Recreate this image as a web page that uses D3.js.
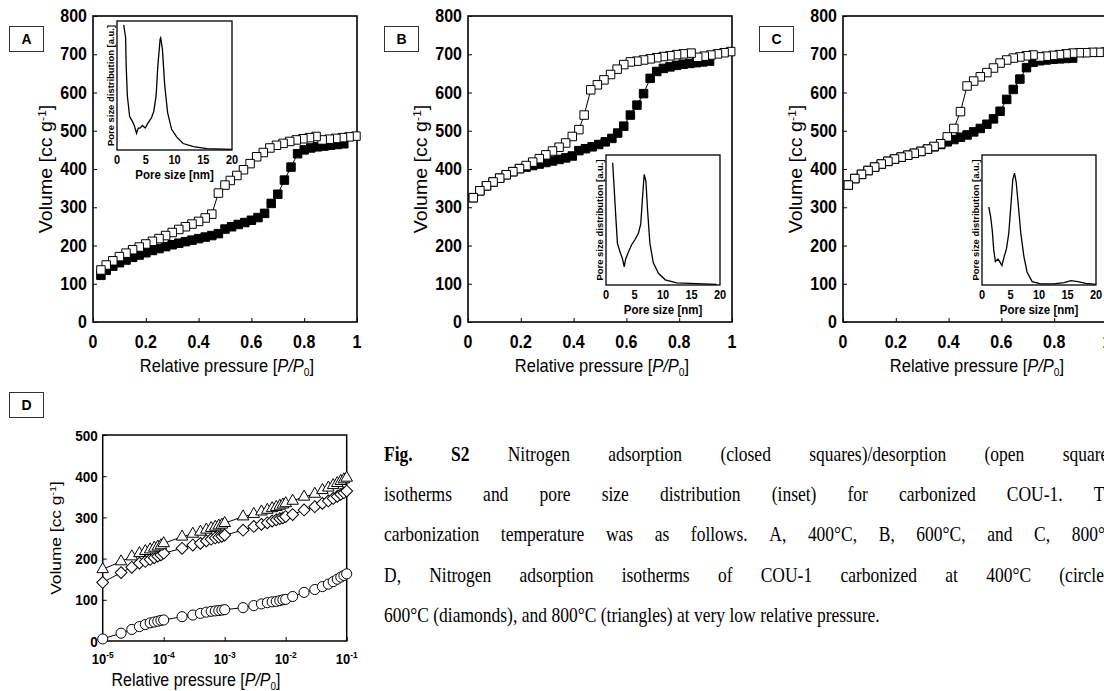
<!DOCTYPE html>
<html><head><meta charset="utf-8">
<script src="https://cdn.jsdelivr.net/npm/d3@7/dist/d3.min.js"></script>
<style>
html,body{margin:0;padding:0;background:#fff;}
svg{display:block;}
</style></head>
<body>
<svg id="chart" width="1104" height="691"></svg>
<script>
// ---------------- DATA ----------------
const xTicksMain = [0, 0.2, 0.4, 0.6, 0.8, 1];
const xTickLabelsMain = ["0", "0.2", "0.4", "0.6", "0.8", "1"];
const yTicksMain = [0, 100, 200, 300, 400, 500, 600, 700, 800];
const poreTicks = [0, 5, 10, 15, 20];
const dXTicks = [1e-5, 1e-4, 1e-3, 1e-2, 1e-1];
const dXTickExp = ["-5", "-4", "-3", "-2", "-1"];
const dYTicks = [0, 100, 200, 300, 400, 500];
const panelLetters = ["A", "B", "C", "D"];

// Panel A (400 °C)
const aAdsP = [0.03,0.05,0.075,0.10,0.125,0.15,0.175,0.20,0.225,0.25,0.275,0.30,0.325,0.35,0.375,0.40,0.425,0.45,0.475,0.50,0.525,0.55,0.575,0.60,0.625,0.65,0.675,0.70,0.725,0.75,0.775,0.80,0.825,0.85,0.875,0.90,0.925,0.95];
const aAdsV = [122,135,146,155,162,169,175,181,187,192,197,202,206,210,214,218,222,226,231,243,249,255,260,266,273,284,310,334,371,405,440,450,455,458,460,462,464,466];
const aDesP = [0.996,0.97,0.945,0.92,0.895,0.868,0.845,0.82,0.795,0.77,0.745,0.72,0.695,0.67,0.645,0.62,0.595,0.57,0.545,0.52,0.50,0.475,0.45,0.425,0.40,0.375,0.35,0.325,0.30,0.275,0.25,0.225,0.20,0.175,0.15,0.125,0.10,0.075,0.05,0.03];
const aDesV = [486,484,482,480,478,476,485,482,479,476,472,467,462,455,443,432,414,398,383,370,358,337,282,272,263,256,249,242,234,226,218,211,204,196,189,180,171,160,149,136];
// Panel B (600 °C)
const bAdsP = [0.02,0.045,0.07,0.095,0.12,0.145,0.17,0.195,0.22,0.245,0.27,0.295,0.32,0.345,0.37,0.395,0.42,0.445,0.47,0.495,0.52,0.545,0.567,0.59,0.615,0.64,0.665,0.69,0.715,0.74,0.765,0.79,0.815,0.84,0.865,0.89,0.915];
const bAdsV = [325,343,356,366,376,385,393,401,405,409,413,417,421,425,429,434,448,453,458,464,471,480,494,512,541,567,597,637,655,663,667,671,674,676,678,680,682];
const bDesP = [0.995,0.97,0.945,0.92,0.895,0.87,0.845,0.815,0.79,0.765,0.74,0.715,0.69,0.665,0.64,0.615,0.59,0.565,0.54,0.515,0.49,0.465,0.44,0.42,0.395,0.37,0.345,0.32,0.295,0.27,0.245,0.22,0.195,0.17,0.145,0.12,0.095,0.07,0.045,0.02];
const bDesV = [707,704,701,698,695,692,703,701,699,696,694,691,688,685,682,680,673,661,647,633,620,607,541,503,485,468,457,447,437,427,418,409,401,393,385,376,366,356,343,325];
// Panel C (800 °C)
const cAdsP = [0.02,0.045,0.07,0.095,0.12,0.145,0.17,0.195,0.22,0.245,0.27,0.295,0.32,0.345,0.37,0.395,0.42,0.445,0.47,0.495,0.52,0.545,0.57,0.595,0.62,0.645,0.67,0.695,0.72,0.745,0.77,0.795,0.82,0.845,0.87];
const cAdsV = [358,375,386,396,405,413,420,426,431,436,441,446,452,458,464,471,477,483,489,497,506,517,531,551,582,608,635,665,679,683,685,687,688,689,690];
const cDesP = [0.995,0.97,0.945,0.92,0.895,0.87,0.845,0.82,0.795,0.77,0.745,0.72,0.695,0.67,0.645,0.62,0.595,0.57,0.545,0.52,0.495,0.47,0.445,0.42,0.395,0.37,0.345,0.32,0.295,0.27,0.245,0.22,0.195,0.17,0.145,0.12,0.095,0.07,0.045,0.02];
const cDesV = [706,705,705,704,704,703,701,699,697,695,693,698,696,693,690,685,677,664,652,641,630,617,550,506,484,466,459,452,446,441,436,431,426,420,413,405,396,386,375,358];

// Insets: pore size distribution (a.u.)
const insAd = [1.17,1.5,1.6,1.8,2.2,2.7,3.0,3.4,3.7,4.0,4.4,4.9,5.4,6.0,6.4,6.8,7.1,7.5,7.6,7.9,8.3,8.8,9.5,10.4,11.5,13.3,15.6,20];
const insAu = [0.97,0.87,0.65,0.42,0.26,0.22,0.19,0.13,0.17,0.17,0.19,0.17,0.21,0.25,0.30,0.42,0.65,0.86,0.87,0.78,0.50,0.29,0.16,0.10,0.05,0.026,0.01,0.005];
const insBd = [1.17,1.4,1.7,2.0,2.5,2.9,3.2,3.45,3.9,4.5,5.1,5.7,6.1,6.4,6.7,7.0,7.3,7.7,8.3,9.2,10.4,12.4,15.9,19.4];
const insBu = [0.94,0.77,0.54,0.32,0.25,0.20,0.14,0.20,0.25,0.31,0.35,0.40,0.47,0.67,0.85,0.80,0.57,0.32,0.17,0.09,0.04,0.017,0.01,0.005];
const insCd = [1.18,1.5,1.8,2.06,2.35,2.8,3.1,3.5,3.9,4.3,4.7,5.1,5.4,5.7,6.0,6.4,6.8,7.35,7.9,8.8,10.3,12.6,14.4,15.6,16.8,18.2,20];
const insCu = [0.60,0.53,0.42,0.27,0.18,0.20,0.18,0.15,0.22,0.28,0.40,0.63,0.81,0.86,0.79,0.60,0.40,0.22,0.10,0.026,0.008,0.008,0.018,0.033,0.026,0.013,0.005];

// Panel D: low-pressure adsorption
const dP = [1e-5,2e-5,3e-5,4e-5,5e-5,6e-5,7e-5,8e-5,9e-5,
            1e-4,2e-4,3e-4,4e-4,5e-4,6e-4,7e-4,8e-4,9e-4,
            1e-3,2e-3,3e-3,4e-3,5e-3,6e-3,7e-3,8e-3,9e-3,
            1e-2,1.3e-2,2e-2,3e-2,4e-2,5e-2,6e-2,7e-2,8e-2,9e-2,1e-1];
const dCircle = [5,19,28,35,40,44,46,48,50, 51,59,63,67,70,72,73,74,75, 76,81,86,90,93,95,96,98,100, 101,108,118,125,132,138,144,150,155,159,163];
const dDiamond = [142,166,179,189,193,198,202,206,209, 213,225,233,237,243,247,250,252,254, 257,269,278,283,287,291,294,297,299, 302,307,318,326,334,340,346,351,356,360,364];
const dTriangle = [174,193,205,213,218,222,226,229,232, 237,253,260,265,270,274,277,280,282, 286,302,308,314,318,322,325,328,331, 334,340,350,357,366,372,378,383,388,392,396];

const captionLines = [
  "Fig. S2 Nitrogen adsorption (closed squares)/desorption (open squares)",
  "isotherms and pore size distribution (inset) for carbonized COU-1. The",
  "carbonization temperature was as follows. A, 400°C, B, 600°C, and C, 800°C.",
  "D, Nitrogen adsorption isotherms of COU-1 carbonized at 400°C (circles),",
  "600°C (diamonds), and 800°C (triangles) at very low relative pressure."
];

// ---------------- DRAWING ----------------
const svg = d3.select("#chart");
const SANS = "'Liberation Sans', Arial, Helvetica, sans-serif";
const SERIF = "'Liberation Serif', 'Times New Roman', serif";

function T(parent, x, y, o) {
  const sy = o.sy || 1;
  const tr = o.rotate ? `translate(${x},${y}) rotate(-90) scale(${sy},1)` : `translate(${x},${y}) scale(1,${sy})`;
  return parent.append("text").attr("transform", tr)
    .attr("font-family", o.family || SANS).attr("font-size", o.size)
    .attr("font-weight", o.weight || "normal").attr("text-anchor", o.anchor || "middle")
    .attr("fill", "#000");
}
function volumeLabel(t) {
  t.append("tspan").text("Volume [cc g");
  t.append("tspan").attr("font-size", "0.62em").attr("dy", "-0.55em").text("-1");
  t.append("tspan").attr("dy", "0.341em").text("]");
}
function pressureLabel(t) {
  t.append("tspan").text("Relative pressure [");
  t.append("tspan").attr("font-style", "italic").text("P/P");
  t.append("tspan").attr("font-size", "0.62em").attr("dy", "0.35em").text("0");
  t.append("tspan").attr("dy", "-0.217em").text("]");
}
function letterBox(x, y, letter) {
  svg.append("rect").attr("x", x + 0.5).attr("y", y + 0.5).attr("width", 34).attr("height", 25)
    .attr("fill", "#fff").attr("stroke", "#333").attr("stroke-width", 1);
  T(svg, x + 17.5, y + 18, {size: 14, weight: "bold"}).text(letter);
}
function zip(a, b) { return a.map((v, i) => [v, b[i]]); }

function inset(g, box, d, u) {
  const x = d3.scaleLinear().domain([0, 20]).range([box.x, box.x + box.w]);
  const y = d3.scaleLinear().domain([0, 1]).range([box.y + box.h, box.y]);
  g.append("rect").attr("x", box.x).attr("y", box.y).attr("width", box.w).attr("height", box.h)
    .attr("fill", "#fff").attr("stroke", "#000").attr("stroke-width", 1.3);
  g.append("path").datum(zip(d, u)).attr("fill", "none").attr("stroke", "#000").attr("stroke-width", 1.3)
    .attr("d", d3.line().x(p => x(p[0])).y(p => y(p[1])));
  poreTicks.forEach(t => T(g, x(t), box.y + box.h + 14, {size: 11, weight: "bold", sy: 1.1}).text(t));
  T(g, box.x + box.w / 2, box.y + box.h + 29, {size: 11.5, weight: "bold", sy: 1.1}).text("Pore size [nm]");
  T(g, box.x - 3, box.y + box.h / 2, {size: 9, weight: "bold", rotate: true, sy: 1.05}).text("Pore size distribution [a.u.]");
}

function mainPanel(cfg) {
  const {L, Tp, W, H} = cfg;
  const g = svg.append("g");
  const x = d3.scaleLinear().domain([0, 1]).range([L, L + W]);
  const y = d3.scaleLinear().domain([0, 800]).range([Tp + H, Tp]);
  g.append("g").attr("transform", `translate(0,${Tp + H})`)
    .call(d3.axisBottom(x).tickValues(xTicksMain).tickSize(-4).tickFormat(""))
    .call(a => a.select(".domain").remove());
  g.append("g").attr("transform", `translate(${L},0)`)
    .call(d3.axisLeft(y).tickValues(yTicksMain).tickSize(-4).tickFormat(""))
    .call(a => a.select(".domain").remove());
  g.append("rect").attr("x", L).attr("y", Tp).attr("width", W).attr("height", H)
    .attr("fill", "none").attr("stroke", "#000").attr("stroke-width", 1.6);
  xTicksMain.forEach((t, i) => T(g, x(t), Tp + H + 26, {size: 16, weight: "bold", sy: 1.12}).text(xTickLabelsMain[i]));
  yTicksMain.forEach(t => T(g, L - 6, y(t) + 6, {size: 16, weight: "bold", anchor: "end", sy: 1.12}).text(t));
  pressureLabel(T(g, L + W / 2 + 2, Tp + H + 50, {size: 16.5, sy: 1.12}));
  volumeLabel(T(g, L - 41, Tp + H / 2, {size: 17.5, rotate: true, sy: 1.12}));

  if (cfg.insetBox && cfg.insetFirst) inset(g, cfg.insetBox, cfg.insD, cfg.insU);

  const line = d3.line().x(p => x(p[0])).y(p => y(p[1]));
  const ads = zip(cfg.adsP, cfg.adsV), des = zip(cfg.desP, cfg.desV);
  g.append("path").datum(ads).attr("fill", "none").attr("stroke", "#000").attr("stroke-width", 1).attr("d", line);
  g.append("path").datum(des).attr("fill", "none").attr("stroke", "#000").attr("stroke-width", 1).attr("d", line);
  const sq = d3.symbol().type(d3.symbolSquare).size(72)();
  g.append("g").selectAll("path").data(ads).join("path").attr("d", sq)
    .attr("transform", p => `translate(${x(p[0])},${y(p[1])})`)
    .attr("fill", "#000").attr("stroke", "#000").attr("stroke-width", 1);
  g.append("g").selectAll("path").data(des).join("path").attr("d", sq)
    .attr("transform", p => `translate(${x(p[0])},${y(p[1])})`)
    .attr("fill", "#fff").attr("stroke", "#000").attr("stroke-width", 1);

  if (cfg.insetBox && !cfg.insetFirst) inset(g, cfg.insetBox, cfg.insD, cfg.insU);
  letterBox(L - 84, 26, cfg.letter);
}

mainPanel({L: 93, Tp: 16, W: 264, H: 306, adsP: aAdsP, adsV: aAdsV, desP: aDesP, desV: aDesV,
  insetBox: {x: 117, y: 21, w: 115, h: 129}, insD: insAd, insU: insAu, insetFirst: true, letter: panelLetters[0]});
mainPanel({L: 468, Tp: 16, W: 264, H: 306, adsP: bAdsP, adsV: bAdsV, desP: bDesP, desV: bDesV,
  insetBox: {x: 606, y: 155, w: 114, h: 130}, insD: insBd, insU: insBu, letter: panelLetters[1]});
mainPanel({L: 843, Tp: 16, W: 264, H: 306, adsP: cAdsP, adsV: cAdsV, desP: cDesP, desV: cDesV,
  insetBox: {x: 982, y: 155, w: 114, h: 130}, insD: insCd, insU: insCu, letter: panelLetters[2]});

// Panel D
(function () {
  const L = 102.7, Tp = 435, W = 244, H = 206;
  const g = svg.append("g");
  const x = d3.scaleLog().domain([1e-5, 1e-1]).range([L, L + W]);
  const y = d3.scaleLinear().domain([0, 500]).range([Tp + H, Tp]);
  g.append("g").attr("transform", `translate(0,${Tp + H})`)
    .call(d3.axisBottom(x).tickValues(dXTicks).tickSize(-4).tickFormat(""))
    .call(a => a.select(".domain").remove());
  g.append("g").attr("transform", `translate(${L},0)`)
    .call(d3.axisLeft(y).tickValues(dYTicks).tickSize(-4).tickFormat(""))
    .call(a => a.select(".domain").remove());
  g.append("rect").attr("x", L).attr("y", Tp).attr("width", W).attr("height", H)
    .attr("fill", "none").attr("stroke", "#000").attr("stroke-width", 1.5);
  dYTicks.forEach(t => T(g, L - 5, y(t) + 5.5, {size: 13.5, weight: "bold", anchor: "end", sy: 1.1}).text(t));
  dXTicks.forEach((t, i) => {
    const tx = T(g, x(t), 664, {size: 13, weight: "bold", sy: 1.1});
    tx.append("tspan").text("10");
    tx.append("tspan").attr("font-size", "0.65em").attr("dy", "-0.6em").text(dXTickExp[i]);
  });
  pressureLabel(T(g, 196, 686, {size: 16, sy: 1.1}));
  volumeLabel(T(g, 61, Tp + H / 2, {size: 15.5, rotate: true, sy: 1.12}));

  const line = d3.line().x(p => x(p[0])).y(p => y(p[1]));
  const series = [
    {v: dCircle, type: d3.symbolCircle, size: 80, rot: 0},
    {v: dDiamond, type: d3.symbolSquare, size: 70, rot: 45},
    {v: dTriangle, type: d3.symbolTriangle, size: 58, rot: 0}
  ];
  series.forEach(s => {
    const pts = zip(dP, s.v);
    g.append("path").datum(pts).attr("fill", "none").attr("stroke", "#000").attr("stroke-width", 1).attr("d", line);
    const sym = d3.symbol().type(s.type).size(s.size)();
    g.append("g").selectAll("path").data(pts).join("path").attr("d", sym)
      .attr("transform", p => `translate(${x(p[0])},${y(p[1])}) rotate(${s.rot})`)
      .attr("fill", "#fff").attr("stroke", "#000").attr("stroke-width", 1);
  });
  letterBox(9, 392, panelLetters[3]);
})();

// Caption (justified)
(function () {
  const x0 = 384, x1 = 1121, bases = [461, 501, 541, 582, 622];
  const size = 17.5, sy = 1.2;
  const meas = svg.append("text").attr("font-family", SERIF).attr("font-size", size).attr("visibility", "hidden");
  captionLines.forEach((line, li) => {
    const words = line.split(" ");
    const bold = words.map((w, i) => li === 0 && i < 2);
    const widths = words.map((w, i) => {
      meas.attr("font-weight", bold[i] ? "bold" : "normal").text(w);
      return meas.node().getComputedTextLength();
    });
    const total = d3.sum(widths);
    const last = li === captionLines.length - 1;
    const gap = last ? size * 0.25 : (x1 - x0 - total) / (words.length - 1);
    const t = svg.append("text").attr("transform", `translate(0,${bases[li]}) scale(1,${sy})`)
      .attr("font-family", SERIF).attr("font-size", size).attr("fill", "#000");
    let cx = x0;
    words.forEach((w, i) => {
      t.append("tspan").attr("x", cx).attr("y", 0).attr("font-weight", bold[i] ? "bold" : "normal").text(w);
      cx += widths[i] + gap;
    });
  });
  meas.remove();
})();
</script>
</body></html>
